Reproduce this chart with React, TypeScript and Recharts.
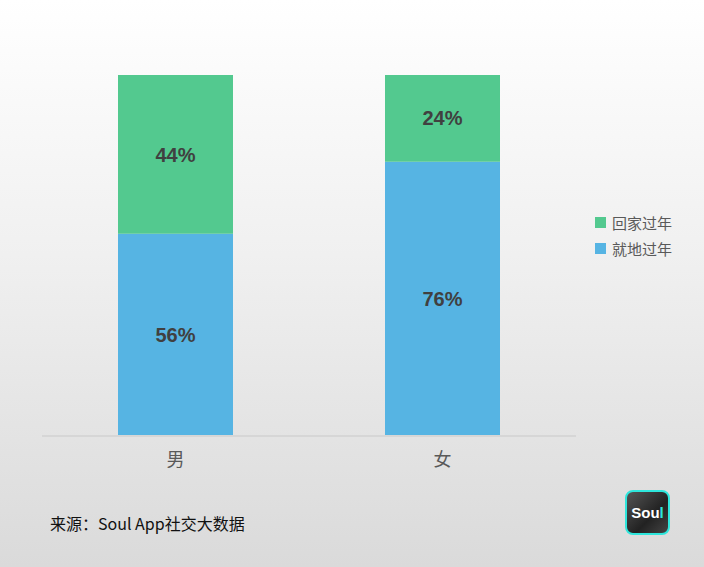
import { BarChart, Bar, XAxis, YAxis, LabelList } from "recharts";

const CATEGORIES = ["男", "女"];
const STAY_LOCAL = [56, 76];
const GO_HOME = [44, 24];
const SERIES = [
  { key: "stay", name: "就地过年", color: "#56B4E3" },
  { key: "home", name: "回家过年", color: "#53C98F" },
];

const data = CATEGORIES.map((name, i) => ({ name, stay: STAY_LOCAL[i], home: GO_HOME[i] }));

const FONT = "'Noto Sans CJK SC', 'Liberation Sans', sans-serif";

const ChartLegend = () => (
  <div style={{ position: "absolute", left: 595, top: 209, fontFamily: FONT, fontSize: 15, color: "#595959" }}>
    {[...SERIES].reverse().map(s => (
      <div key={s.key} style={{ display: "flex", alignItems: "center", height: 26 }}>
        <span style={{ width: 11, height: 11, background: s.color, marginRight: 6, display: "inline-block" }} />
        {s.name}
      </div>
    ))}
  </div>
);

const App = () => {
  return <div style={{
    position: "absolute",
    left: 0,
    top: 0,
    width: 704,
    height: 567,
    background: "linear-gradient(to bottom, #ffffff 0%, #f0f0f0 45%, #dadada 100%)",
    fontFamily: FONT,
    overflow: "hidden"
  }}>
      <BarChart width={704} height={567} data={data} margin={{ top: 75, right: 128, left: 42, bottom: 101 }}>
        <XAxis dataKey="name" height={30} axisLine={{ stroke: "#d6d6d6", strokeWidth: 2 }} tickLine={false}
          tick={{ fill: "#595959", fontSize: 18, fontFamily: FONT }} dy={9} />
        <YAxis hide domain={[0, 100]} />
        {SERIES.map(s => (
          <Bar key={s.key} dataKey={s.key} name={s.name} stackId="a" fill={s.color} barSize={115} isAnimationActive={false}>
            <LabelList dataKey={s.key} position="center" formatter={(v: number) => `${v}%`}
              style={{ fill: "#404040", fontSize: 20, fontWeight: 700, fontFamily: "'Liberation Sans', sans-serif" }} />
          </Bar>
        ))}
      </BarChart>
      <ChartLegend />
      <div style={{ position: "absolute", left: 50, top: 512, fontSize: 16, color: "#111", fontFamily: FONT, lineHeight: "22px" }}>
        来源：Soul App社交大数据
      </div>
      <div style={{
        position: "absolute", left: 625, top: 490, width: 41, height: 41, borderRadius: 8,
        border: "2px solid #2ee6dc", background: "linear-gradient(135deg, #555 0%, #222 60%, #444 100%)",
        color: "#fff", fontFamily: "'Liberation Sans', sans-serif", fontWeight: 700, fontSize: 15,
        display: "flex", alignItems: "center", justifyContent: "center"
      }}>
        Sou<span style={{ color: "#2ee6dc" }}>l</span>
      </div>
    </div>;
};

export default App;
